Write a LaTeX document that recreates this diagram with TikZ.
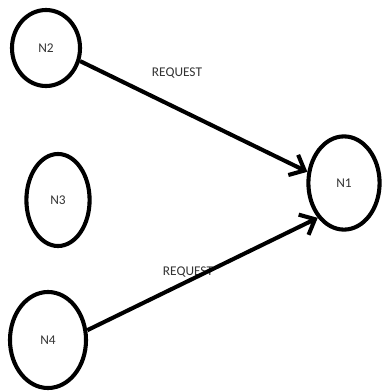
\documentclass[tikz,border=0pt]{standalone}
\usepackage{fontspec}
\setmainfont{Carlito}
\usepackage{tikz}
\usetikzlibrary{shapes.geometric,arrows.meta,positioning}

\begin{document}
\begin{tikzpicture}[
    x=0.025cm, y=-0.025cm,
    nodecirc/.style={ellipse, draw, line width=2.9pt, inner sep=0pt, font=\fontsize{9.5}{10}\selectfont, text=black!80},
    lbl/.style={font=\fontsize{9.5}{10}\selectfont, text=black!80, inner sep=1pt},
    arrow/.style={-{Straight Barb[length=9pt,width=16pt,line width=2.9pt]}, line width=2.9pt}
]
\useasboundingbox (0,0) rectangle (385,391);

\node[nodecirc, minimum width=1.7cm, minimum height=1.9cm] (n2) at (46,48) {N2};
\node[nodecirc, minimum width=1.58cm, minimum height=2.3cm] (n3) at (58,200) {N3};
\node[nodecirc, minimum width=1.9cm, minimum height=2.4cm] (n4) at (48,340) {N4};
\node[nodecirc, minimum width=1.78cm, minimum height=2.33cm] (n1) at (344,183) {N1};

\node[lbl] (req1) at (177,73) {REQUEST};
\node[lbl] (req2) at (188,272) {REQUEST};

\draw[arrow] (n2.339) -- (n1.163);
\draw[arrow] (n4.14) -- (n1.233);

\end{tikzpicture}
\end{document}
